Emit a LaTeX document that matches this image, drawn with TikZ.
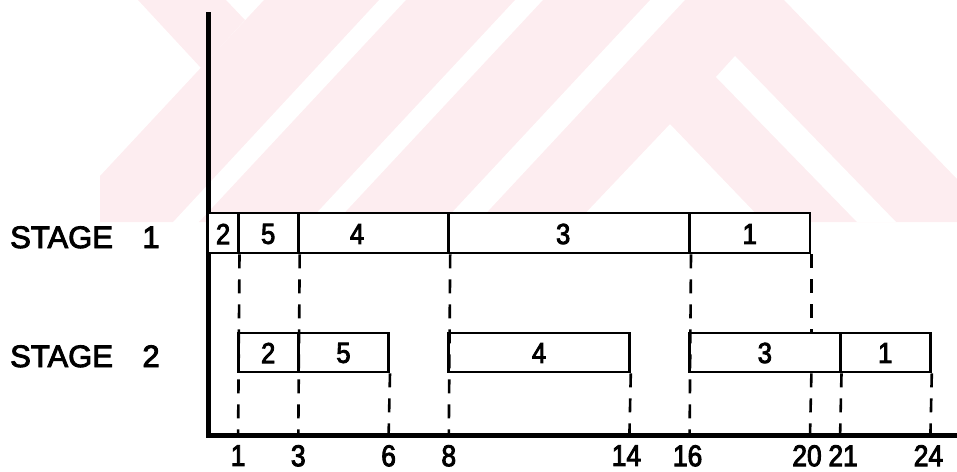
\documentclass[tikz,border=0pt]{standalone}
\usepackage{fontspec}
\setmainfont{Liberation Sans}
\newfontfamily\letterfont{Liberation Sans}[FakeBold=3, FakeStretch=0.88]
\newfontfamily\stagefont{Liberation Sans}[FakeBold=3]
\usetikzlibrary{positioning}
\definecolor{wmpink}{RGB}{253,237,240}

\begin{document}
\begin{tikzpicture}[
    x=1pt, y=-1pt,
    axis/.style={line width=5pt, line join=miter},
    cell/.style={draw, fill=white, line width=2.8pt, inner sep=0pt},
    guide/.style={line width=2.6pt, dash pattern=on 14pt off 11pt},
    job/.style={font=\letterfont\fontsize{29}{29}\selectfont, inner sep=0pt},
    tick/.style={font=\letterfont\fontsize{30}{30}\selectfont, inner sep=0pt},
    stage/.style={font=\stagefont\fontsize{31}{31}\selectfont, anchor=base west, inner sep=0pt},
    wm/.style={fill=wmpink, draw=none}
  ]
  \useasboundingbox (0,0) rectangle (957,471);

  % faint background mark
  \fill[wm] (138,0) -- (226,0) -- (245,20) -- (201,68) -- cycle;
  \fill[wm] (264,0) -- (379,0) -- (173,222) -- (100,222) -- (100,176) -- cycle;
  \fill[wm] (406,0) -- (515,0) -- (308,222) -- (199,222) -- cycle;
  \fill[wm] (543,0) -- (650,0) -- (443,222) -- (336,222) -- cycle;
  \fill[wm] (685,0) -- (784,0) -- (957,179) -- (957,222) -- (764,222)
    -- (670,124) -- (577,222) -- (478,222) -- cycle;
  \fill[white] (716,77) -- (735,56) -- (896,222) -- (857,222) -- cycle;

  % row names
  \node[stage] (stage1) at (10,248) {STAGE\hspace{0.95em}1};
  \node[stage] (stage2) at (10,367) {STAGE\hspace{0.95em}2};

  \begin{scope}[xshift=208pt, x=30.1pt]
    % axes
    \coordinate (o) at (0,435);
    \coordinate (ytop) at (0,12);
    \coordinate (xend) at (24.9,435);
    \draw[axis] (ytop) -- (o) -- (xend);

    % stage 1
    \foreach \j/\ta/\tb in {2/0/1, 5/1/3, 4/3/8, 3/8/16, 1/16/20}
      \node[cell, minimum width={(\tb-\ta)*30.1pt}, minimum height=40pt]
        (one\j) at ({(\ta+\tb)/2},233) {};
    \foreach \j/\tx in {2/0.5, 5/2, 4/4.95, 3/11.8, 1/18}
      \node[job] (txtone\j) at (\tx,234) {\j};

    % stage 2
    \foreach \j/\ta/\tb in {2/1/3, 5/3/6, 4/8/14, 3/16/21, 1/21/24}
      \node[cell, minimum width={(\tb-\ta)*30.1pt}, minimum height=39pt]
        (two\j) at ({(\ta+\tb)/2},352.5) {};
    \foreach \j/\tx in {2/2, 5/4.5, 4/11, 3/18.5, 1/22.5}
      \node[job] (txttwo\j) at (\tx,353) {\j};

    % time scale
    \foreach \t/\dx in {1/0, 3/0, 6/0, 8/0, 14/-3, 16/-2, 20/-3, 21/3, 24/-2} {
      \coordinate (t\t) at (\t,435);
      \node[tick, below=10pt of t\t, xshift=\dx pt] (lab\t) {\t};
    }

    % guide lines
    \draw[guide] (one2.south east) -- (t1);
    \draw[guide] (one5.south east) -- (t3);
    \draw[guide] (one4.south east) -- (t8);
    \draw[guide] (one3.south east) -- (t16);
    \draw[guide] (one1.south east) -- (two3.north -| one1.south east);
    \draw[guide] (two3.south -| one1.south east) -- (t20);
    \draw[guide] (two5.south east) -- (t6);
    \draw[guide] (two4.south east) -- (t14);
    \draw[guide] (two3.south east) -- (t21);
    \draw[guide] (two1.south east) -- (t24);
  \end{scope}
\end{tikzpicture}
\end{document}
